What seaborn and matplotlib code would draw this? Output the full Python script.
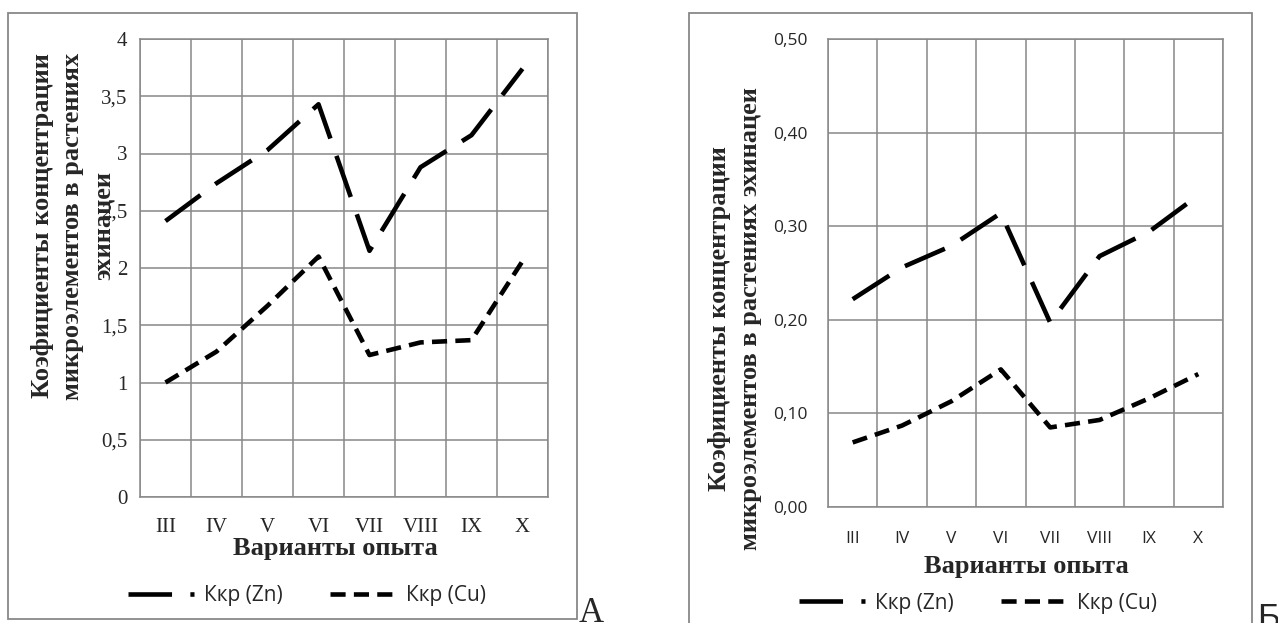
import matplotlib
matplotlib.use("Agg")
import matplotlib.pyplot as plt
import seaborn as sns
import pandas as pd
import numpy as np
from matplotlib.patches import Rectangle

# ---------------- data ----------------
variants = ["III", "IV", "V", "VI", "VII", "VIII", "IX", "X"]
series_names = ["Ккр (Zn)", "Ккр (Cu)"]
zn_a = [2.41, 2.74, 3.03, 3.43, 2.15, 2.88, 3.16, 3.74]
cu_a = [1.00, 1.27, 1.67, 2.10, 1.24, 1.35, 1.37, 2.06]
zn_b = [0.222, 0.256, 0.279, 0.314, 0.197, 0.268, 0.294, 0.333]
cu_b = [0.069, 0.087, 0.113, 0.147, 0.085, 0.093, 0.116, 0.142]
yticks_a = [0, 0.5, 1, 1.5, 2, 2.5, 3, 3.5, 4]
yticks_b = [0.0, 0.1, 0.2, 0.3, 0.4, 0.5]
ylabel_a = "Коэфициенты концентрации\nмикроэлементов в растениях\nэхинацеи"
ylabel_b = "Коэфициенты концентрации\nмикроэлементов в растениях эхинацеи"
xlabel = "Варианты опыта"

sns.set_style("white")
plt.rcParams["font.family"] = ["Liberation Serif", "DejaVu Serif"]

W, H = 1278, 623
fig = plt.figure(figsize=(W / 100, H / 100), dpi=100)

GRID = "#888888"
LW = 3.3
dash_map = {series_names[0]: (9.5, 4.0), series_names[1]: (3.3, 1.8)}


def long_df(zn, cu):
    rows = []
    for name, vals in zip(series_names, [zn, cu]):
        for i, v in enumerate(vals):
            rows.append({"pos": i, "value": v, "series": name})
    return pd.DataFrame(rows)


def px_rect(x0, y0, x1, y1):
    return [x0 / W, (H - y1) / H, (x1 - x0) / W, (y1 - y0) / H]


def setup_axes(ax, yticks, ytl, tick_font, tick_size, ypad, xpad):
    ax.set_xlim(-0.5, len(variants) - 0.5)
    ax.set_ylim(yticks[0], yticks[-1])
    ax.set_xticks(range(len(variants)))
    ax.set_xticklabels(variants, fontfamily=tick_font, fontsize=tick_size)
    ax.set_xticks(np.arange(-0.5, len(variants), 1.0), minor=True)
    ax.set_yticks(yticks)
    ax.set_yticklabels(ytl, fontfamily=tick_font, fontsize=tick_size)
    ax.tick_params(axis="x", which="major", length=0, pad=xpad)
    ax.tick_params(axis="x", which="minor", length=6, width=1.1, color=GRID, direction="out")
    ax.tick_params(axis="y", which="major", length=5, width=1.1, color=GRID, direction="out", pad=ypad)
    ax.grid(False)
    ax.grid(True, axis="x", which="minor", color=GRID, lw=1.1)
    ax.grid(True, axis="y", which="major", color=GRID, lw=1.1)
    for s in ax.spines.values():
        s.set_color(GRID)
        s.set_linewidth(1.1)
    ax.set_xlabel("")
    ax.set_ylabel("")


# ---------------- frames ----------------
fig.patches.append(Rectangle((8 / W, (H - 619) / H), (577 - 8) / W, (619 - 13) / H,
                             transform=fig.transFigure, fill=False, ec=GRID, lw=1.3))
fig.patches.append(Rectangle((689 / W, -0.05), (1252 - 689) / W, (H - 13) / H + 0.05,
                             transform=fig.transFigure, fill=False, ec=GRID, lw=1.3))

# ---------------- chart A ----------------
axA = fig.add_axes(px_rect(140, 39, 548, 497))
dfA = long_df(zn_a, cu_a)
sns.lineplot(data=dfA, x="pos", y="value", style="series", dashes=dash_map,
             color="black", lw=LW, ax=axA, legend=False, sort=False)
ytl_a = [("%g" % v).replace(".", ",") for v in yticks_a]
setup_axes(axA, yticks_a, ytl_a, "Liberation Serif", 15, 4, 15)
axA.set_axisbelow(True)

# ---------------- chart B ----------------
axB = fig.add_axes(px_rect(828, 39, 1223, 507))
dfB = long_df(zn_b, cu_b)
sns.lineplot(data=dfB, x="pos", y="value", style="series", dashes=dash_map,
             color="black", lw=LW, ax=axB, legend=False, sort=False)
ytl_b = [("%.2f" % v).replace(".", ",") for v in yticks_b]
setup_axes(axB, yticks_b, ytl_b, "Open Sans", 12.5, 10, 17)

for ax in (axA, axB):
    for ln in ax.lines:
        ln.set_solid_capstyle("butt")
        ln.set_dash_capstyle("butt")

# ---------------- labels ----------------
fig.text(335 / W, 1 - 548 / H, xlabel, ha="center", va="center",
         fontsize=19, fontweight="bold", fontfamily="Liberation Serif")
fig.text(1026 / W, 1 - 566 / H, xlabel, ha="center", va="center",
         fontsize=19, fontweight="bold", fontfamily="Liberation Serif")
fig.text(73 / W, 1 - 226 / H, ylabel_a, ha="center", va="center", rotation=90,
         multialignment="center", fontsize=19, fontweight="bold",
         fontfamily="Liberation Serif", linespacing=1.4)
fig.text(735 / W, 1 - 319 / H, ylabel_b, ha="center", va="center", rotation=90,
         multialignment="center", fontsize=19, fontweight="bold",
         fontfamily="Liberation Serif", linespacing=1.4)

# ---------------- legends ----------------
legA = fig.legend(handles=axA.lines[:2], labels=series_names, loc="center",
                  bbox_to_anchor=(307 / W, 1 - 596 / H), ncol=2, frameon=False,
                  prop={"family": "Open Sans", "size": 15}, handlelength=3.2,
                  handletextpad=0.45, columnspacing=2.3)
legB = fig.legend(handles=axB.lines[:2], labels=series_names, loc="center",
                  bbox_to_anchor=(978 / W, 1 - 603 / H), ncol=2, frameon=False,
                  prop={"family": "Open Sans", "size": 15}, handlelength=3.2,
                  handletextpad=0.45, columnspacing=2.3)

# ---------------- panel letters ----------------
fig.text(579 / W, 1 - 622 / H, "А", ha="left", va="baseline", fontsize=25,
         fontfamily="Liberation Serif")
fig.text(1257 / W, 1 - 628 / H, "Б", ha="left", va="baseline", fontsize=25,
         fontfamily="Liberation Sans")

fig.savefig("out.png", dpi=100)
